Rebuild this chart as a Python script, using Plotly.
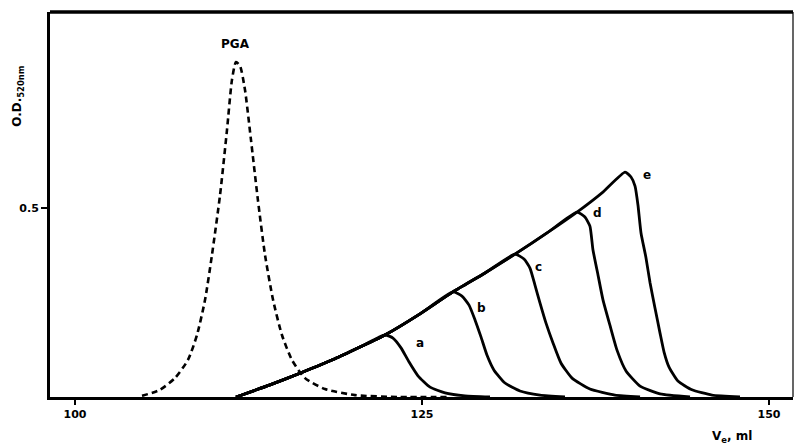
import plotly.graph_objects as go

# PGA elution profile (dashed)
pga_ml = [104.83, 106.12, 107.20, 108.14, 108.79, 109.37, 109.87, 110.45, 110.95, 111.31,
          111.60, 111.89, 112.25, 112.68, 113.18, 113.69, 114.27, 114.91, 115.63, 116.57,
          118.01, 120.17, 123.41, 127.02]
pga_od = [0.003, 0.019, 0.050, 0.098, 0.164, 0.257, 0.376, 0.534, 0.706, 0.839,
          0.886, 0.876, 0.812, 0.680, 0.521, 0.376, 0.257, 0.164, 0.098, 0.050,
          0.021, 0.005, 0.0, 0.0]

# common rising front of the solid curves
front_ml = [111.60, 114.05, 116.21, 118.73, 120.53, 122.33, 124.86, 127.23, 129.54,
            131.70, 134.01, 136.17, 137.97, 139.63]
front_od = [0.0, 0.032, 0.063, 0.101, 0.132, 0.164, 0.220, 0.278, 0.328,
            0.378, 0.434, 0.489, 0.540, 0.595]

# descending parts of curves a-e
curve_names = ["a", "b", "c", "d", "e"]
peak_index = [5, 7, 9, 11, 13]
fall_ml = [
    [122.91, 123.49, 124.06, 124.71, 125.58, 126.66, 128.10, 129.90],
    [127.88, 128.39, 128.82, 129.25, 129.68, 130.19, 130.98, 132.06, 133.50, 135.30],
    [132.35, 132.78, 133.14, 133.50, 133.93, 134.44, 135.01, 135.81, 137.10, 138.90, 140.71],
    [136.74, 137.10, 137.32, 137.68, 138.04, 138.54, 139.05, 139.70, 140.71, 142.15, 144.31],
    [140.06, 140.35, 140.56, 140.78, 141.14, 141.43, 141.79, 142.15, 142.44, 142.80,
     143.44, 144.45, 145.89, 147.91],
]
fall_od = [
    [0.156, 0.130, 0.093, 0.056, 0.026, 0.011, 0.003, 0.0],
    [0.267, 0.243, 0.204, 0.159, 0.111, 0.071, 0.037, 0.016, 0.005, 0.0],
    [0.365, 0.341, 0.296, 0.249, 0.196, 0.143, 0.090, 0.050, 0.021, 0.005, 0.0],
    [0.476, 0.452, 0.389, 0.323, 0.257, 0.190, 0.124, 0.069, 0.029, 0.008, 0.0],
    [0.582, 0.558, 0.508, 0.434, 0.368, 0.302, 0.235, 0.169, 0.119, 0.079,
     0.042, 0.019, 0.005, 0.0],
]
label_ml = [124.86, 129.32, 133.43, 137.61, 141.21]
label_od = [0.143, 0.235, 0.344, 0.487, 0.587]

x_ticks = [100, 125, 150]
y_ticks = [0.5]

fig = go.Figure()
fig.add_trace(go.Scatter(x=pga_ml, y=pga_od, mode="lines",
                         line=dict(color="black", width=2.6, dash="6px,4px", shape="spline", smoothing=0.6),
                         showlegend=False, hoverinfo="skip"))
for i, name in enumerate(curve_names):
    k = peak_index[i]
    xs = front_ml[:k + 1] + fall_ml[i]
    ys = front_od[:k + 1] + fall_od[i]
    fig.add_trace(go.Scatter(x=xs, y=ys, mode="lines",
                             line=dict(color="black", width=2.8, shape="spline", smoothing=0.5),
                             showlegend=False, hoverinfo="skip"))

font_b = dict(family="DejaVu Sans", size=12, color="black", weight="bold")
for i, name in enumerate(curve_names):
    fig.add_annotation(x=label_ml[i], y=label_od[i], text=name, showarrow=False,
                       font=font_b, xanchor="center", yanchor="middle")
fig.add_annotation(x=111.6, y=0.934, text="PGA", showarrow=False, font=font_b,
                   xanchor="center", yanchor="middle")
fig.add_annotation(xref="paper", yref="paper", x=-0.043, y=0.78, text="O.D.<sub>520nm</sub>",
                   textangle=-90, showarrow=False, font=font_b, xanchor="center", yanchor="middle")
fig.add_annotation(xref="paper", yref="paper", x=0.918, y=-0.104, text="V<sub>e</sub>, ml",
                   showarrow=False, font=font_b, xanchor="center", yanchor="middle")

fig.add_shape(type="line", xref="paper", yref="paper", x0=1, x1=1, y0=0, y1=1,
              line=dict(color="black", width=1.2))

fig.update_layout(
    width=795, height=447,
    margin=dict(l=50, r=2, t=12, b=50),
    paper_bgcolor="white", plot_bgcolor="white",
    xaxis=dict(range=[98.2, 151.73], tickvals=x_ticks, ticktext=[str(v) for v in x_ticks],
               showgrid=False, zeroline=False, showline=True, linecolor="black", linewidth=3,
               ticks="outside", ticklen=5, tickwidth=2, tickcolor="black",
               tickfont=dict(family="DejaVu Sans", size=11, color="black", weight="bold")),
    yaxis=dict(range=[0, 1.0185], tickvals=y_ticks, ticktext=["0.5"],
               showgrid=False, zeroline=False, showline=True, linecolor="black", linewidth=3,
               ticks="outside", ticklen=6, tickwidth=2, tickcolor="black",
               tickfont=dict(family="DejaVu Sans", size=11, color="black", weight="bold")),
)
fig.add_shape(type="line", xref="paper", yref="paper", x0=0, x1=1, y0=1, y1=1,
              line=dict(color="black", width=3.5))

fig.write_html("out.html")
